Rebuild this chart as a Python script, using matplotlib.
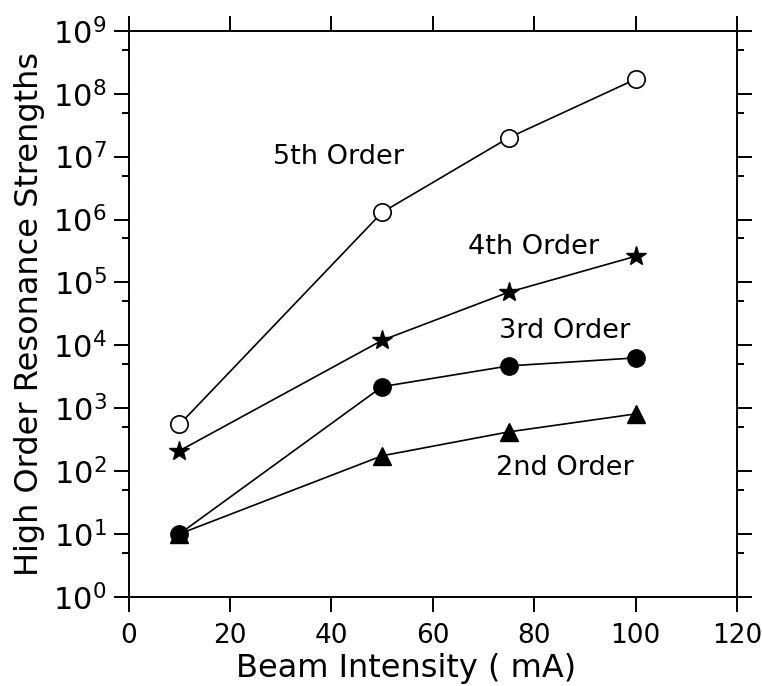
import matplotlib
matplotlib.use("Agg")
from matplotlib import pyplot as plt
from matplotlib.ticker import LogLocator, LogFormatterMathtext, MultipleLocator, NullFormatter

beam_ma = [10, 50, 75, 100]
order_5 = [550, 1.3e6, 2.0e7, 1.7e8]
order_4 = [210, 1.2e4, 7.0e4, 2.6e5]
order_3 = [10, 2200, 4700, 6300]
order_2 = [10, 175, 420, 810]

labels = ["5th Order", "4th Order", "3rd Order", "2nd Order"]
label_pos = [(28.5, 1.0e7), (67.0, 3.7e5), (73.0, 1.7e4), (72.5, 1.1e2)]

plt.rcParams['font.family'] = ['DejaVu Sans']
plt.rcParams['mathtext.fontset'] = 'dejavusans'

fig = plt.figure(figsize=(7.62, 6.86), dpi=100)
ax = fig.add_axes([0.169, 0.130, 0.798, 0.825])

# series
ax.plot(beam_ma, order_5, color='k', lw=1.2, marker='o', ms=12.5,
        mfc='white', mec='k', mew=1.2)
ax.plot(beam_ma, order_4, color='k', lw=1.2, marker='*', ms=15, mfc='k', mec='k')
ax.plot(beam_ma, order_3, color='k', lw=1.2, marker='o', ms=12.5, mfc='k', mec='k')
ax.plot(beam_ma, order_2, color='k', lw=1.2, marker='^', ms=12.5, mfc='k', mec='k')

for txt, (x, y) in zip(labels, label_pos):
    ax.text(x, y, txt, fontsize=19.5, ha='left', va='center')

ax.set_yscale('log')
ax.set_xlim(0, 120)
ax.set_ylim(1, 1e9)

ax.xaxis.set_major_locator(MultipleLocator(20))
ax.yaxis.set_major_locator(LogLocator(base=10, numticks=20))
ax.yaxis.set_minor_locator(LogLocator(base=10, subs=[5], numticks=20))
ax.yaxis.set_major_formatter(LogFormatterMathtext())
ax.yaxis.set_minor_formatter(NullFormatter())

ax.tick_params(which='both', direction='out', top=True, right=True,
               labeltop=False, labelright=False, width=1.4, labelsize=19)
ax.tick_params(axis='y', labelsize=22)
ax.tick_params(which='major', length=11)
ax.tick_params(axis='x', which='major', pad=8)
ax.tick_params(axis='y', which='major', pad=5)
ax.tick_params(which='minor', length=5)
for s in ax.spines.values():
    s.set_linewidth(1.4)

ax.set_xlabel("Beam Intensity ( mA)", fontsize=23)
ax.xaxis.set_label_coords(0.456, -0.1)
ax.set_ylabel("High Order Resonance Strengths", fontsize=23, labelpad=6)

fig.savefig("out.png", dpi=100)
